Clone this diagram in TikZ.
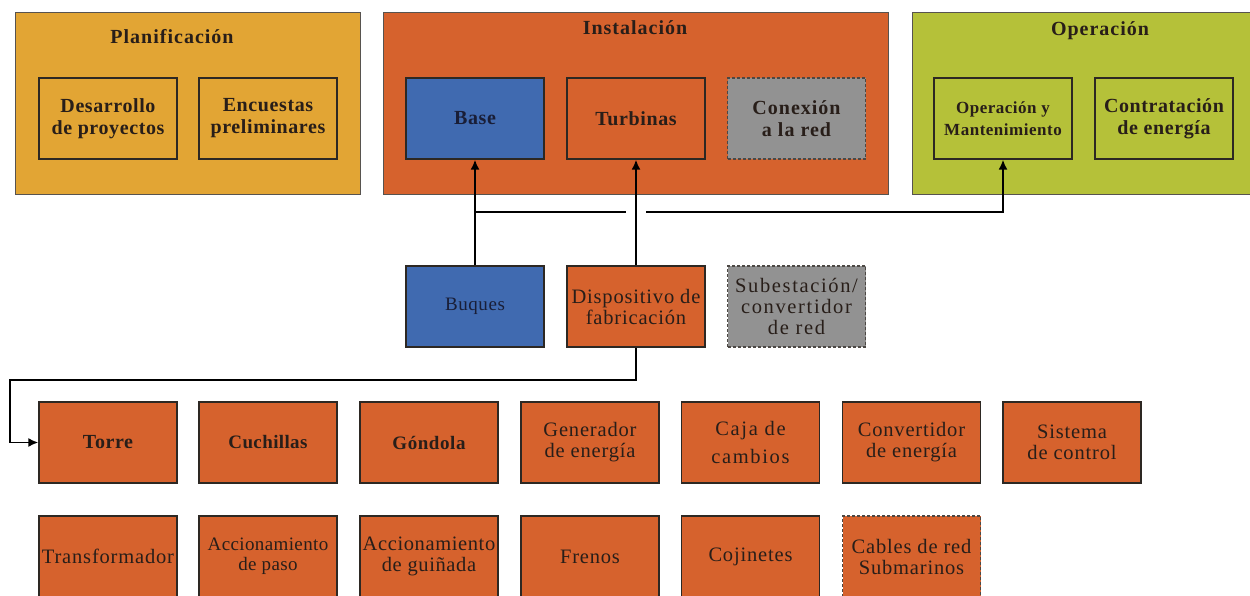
\documentclass[tikz,border=0pt]{standalone}
\usepackage{fontspec}
\setmainfont{Liberation Serif}
\usetikzlibrary{arrows.meta}
\definecolor{orng}{RGB}{214,98,45}
\definecolor{gold}{RGB}{226,165,52}
\definecolor{lime}{RGB}{181,193,57}
\definecolor{bblue}{RGB}{64,106,176}
\definecolor{ggray}{RGB}{146,146,146}
\definecolor{boxline}{RGB}{45,40,35}
\definecolor{txt}{RGB}{40,30,25}
\definecolor{navytxt}{RGB}{25,30,55}
\newcommand{\fsz}[3]{\fontsize{#1}{#2}\selectfont\addfontfeature{LetterSpace=#3}}
\begin{document}
\begin{tikzpicture}[x=1pt,y=-1pt,
  container/.style={draw=boxline!80, line width=1pt, inner sep=0pt},
  title/.style={text=txt, font=\bfseries\fsz{20}{22}{5}},
  box/.style={draw=boxline, line width=1.3pt, minimum width=138pt, minimum height=81pt,
    inner sep=0pt, align=center, text=txt, font=\fsz{20.5}{21}{4}},
  boxb/.style={box, font=\bfseries\fsz{20}{22}{3}},
  ob/.style={fill=orng},
  dash box/.style={draw=boxline!85, densely dashed, line width=1.3pt},
  conn/.style={line width=1.8pt, draw=black},
  arr/.style={conn, -{Latex[length=10pt,width=9pt]}}
]
\useasboundingbox (0,0) rectangle (1250,596);
\fill[white] (0,0) rectangle (1250,596);
\clip (0,0) rectangle (1250,596);

% containers
\node[container, fill=gold, minimum width=345pt, minimum height=182pt] (plan) at (187.5,104) {};
\node[container, fill=orng, minimum width=505pt, minimum height=182pt] (inst) at (635.5,104) {};
\node[container, fill=lime, minimum width=350pt, minimum height=182pt] (oper) at (1087,104) {};
\node[title] (tplan) at (172,37) {Planificación};
\node[title] (tinst) at (635,28) {Instalación};
\node[title] (toper) at (1100,31) {Operación};

% inner boxes
\node[boxb, fill=gold] (desa) at (108,118.5) {Desarrollo\\de proyectos};
\node[boxb, fill=gold] (encu) at (268,118.5) {Encuestas\\preliminares};
\node[boxb, fill=bblue, text=navytxt] (base) at (475,118.5) {Base};
\node[boxb, fill=orng] (turb) at (636,118.5) {Turbinas};
\node[boxb, fill=ggray, dash box, font=\bfseries\fsz{20}{22}{5}] (cone) at (796.5,118.5) {Conexión\\a la red};
\node[box, fill=lime, font=\bfseries\fsz{17}{22}{3}] (opm) at (1003,118.5) {Operación y\\Mantenimiento};
\node[boxb, fill=lime] (cont) at (1164,118.5) {Contratación\\de energía};

% middle row
\node[box, fill=bblue, text=navytxt, font=\fsz{19}{21}{3}] (buq) at (475,306.5) {Buques};
\node[box, fill=orng] (disp) at (636,306.5) {Dispositivo de\\fabricación};
\node[box, fill=ggray, dash box, font=\fsz{20.5}{21}{8}] (sube) at (796.5,306.5) {Subestación/\\convertidor\\de red};

% row 1
\node[boxb, ob] (torre) at (108,442.5) {Torre};
\node[boxb, ob, font=\bfseries\fsz{19}{22}{2}] (cuch) at (268,442.5) {Cuchillas};
\node[boxb, ob, font=\bfseries\fsz{19}{22}{3}] (gond) at (429,442.5) {Góndola};
\node[box, ob] (gene) at (590,442.5) {Generador\\de energía};
\node[box, ob, font=\fsz{20.5}{28}{8}] (caja) at (750.5,442.5) {Caja de\\cambios};
\node[box, ob] (conv) at (911.5,442.5) {Convertidor\\de energía};
\node[box, ob] (sist) at (1072,442.5) {Sistema\\de control};

% row 2
\node[box, ob] (tran) at (108,556.5) {Transformador};
\node[box, ob, font=\fsz{19}{20}{2}] (apas) at (268,556.5) {Accionamiento\\de paso};
\node[box, ob, font=\fsz{20.5}{21}{3}] (agui) at (429,556.5) {Accionamiento\\de guiñada};
\node[box, ob] (fren) at (590,556.5) {Frenos};
\node[box, ob] (coji) at (750.5,556.5) {Cojinetes};
\node[box, ob, dash box] (cabl) at (911.5,556.5) {Cables de red\\Submarinos};

% connectors
\coordinate (j1) at (626,212);
\coordinate (j2) at (646,212);
\coordinate (k1) at (10,380);
\draw[arr] (buq.north) -- (base.south);
\draw[arr] (disp.north) -- (turb.south);
\draw[conn] (base.south |- j1) -- (j1);
\draw[arr] (j2) -| (opm.south);
\draw[arr] (disp.south) |- (k1) |- (torre.west);
\end{tikzpicture}
\end{document}
